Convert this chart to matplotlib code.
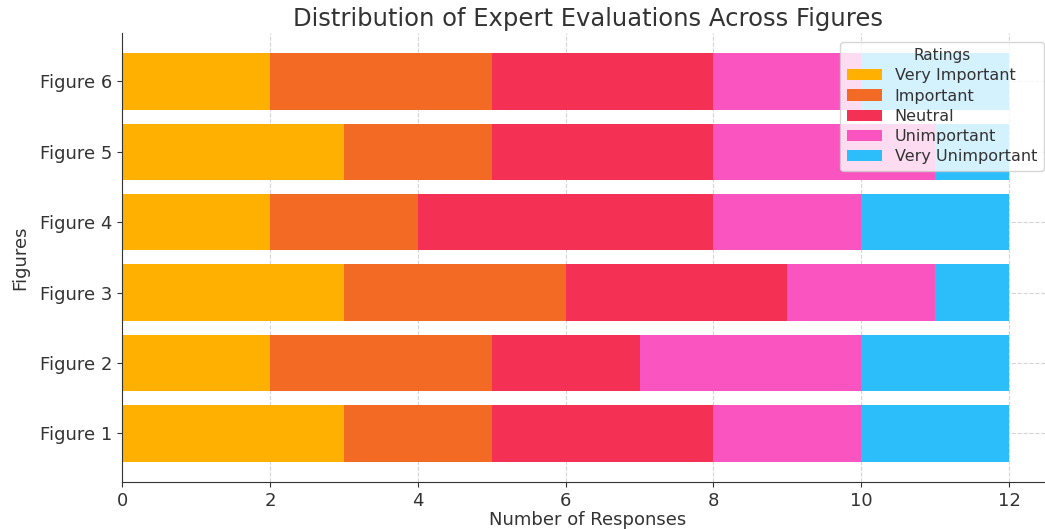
import matplotlib.pyplot as plt
import numpy as np

figures = ["Figure 1", "Figure 2", "Figure 3", "Figure 4", "Figure 5", "Figure 6"]
ratings = ["Very Important", "Important", "Neutral", "Unimportant", "Very Unimportant"]
very_important = [3, 2, 3, 2, 3, 2]
important = [2, 3, 3, 2, 2, 3]
neutral = [3, 2, 3, 4, 3, 3]
unimportant = [2, 3, 2, 2, 3, 2]
very_unimportant = [2, 2, 1, 2, 1, 2]

colors = ["#FFB000", "#F26A24", "#F43155", "#F954C0", "#2BBEFB"]
text_color = "#333333"

plt.rcParams["font.family"] = "DejaVu Sans"

fig = plt.figure(figsize=(10.45, 5.29), dpi=100)
ax = fig.add_axes([0.117, 0.089, 0.891, 0.849])

series = [very_important, important, neutral, unimportant, very_unimportant]
left = np.zeros(len(figures))
for vals, label, c in zip(series, ratings, colors):
    ax.barh(figures, vals, left=left, height=0.8, color=c, label=label, zorder=2)
    left += np.array(vals)

ax.set_xlim(0, 12.6)
ax.set_xticks(range(0, 13, 2))
ax.grid(True, linestyle="--", color="#d5d5d5", linewidth=0.8, zorder=0)
for s in ["top", "right"]:
    ax.spines[s].set_visible(False)
for s in ["left", "bottom"]:
    ax.spines[s].set_color(text_color)

ax.tick_params(axis="both", labelsize=13, colors=text_color)
ax.set_title("Distribution of Expert Evaluations Across Figures", fontsize=17.5,
             color=text_color, pad=5)
ax.set_xlabel("Number of Responses", fontsize=13, color=text_color, labelpad=1)
ax.set_ylabel("Figures", fontsize=13, color=text_color, labelpad=8)

leg = ax.legend(title="Ratings", loc="upper right", bbox_to_anchor=(0.998, 0.998),
                fontsize=11.5, title_fontsize=11, framealpha=0.8,
                handlelength=2.2, labelspacing=0.33, borderpad=0.4)
for t in leg.get_texts():
    t.set_color(text_color)
leg.get_title().set_color(text_color)

fig.savefig("out.png", dpi=100)
plt.close(fig)
